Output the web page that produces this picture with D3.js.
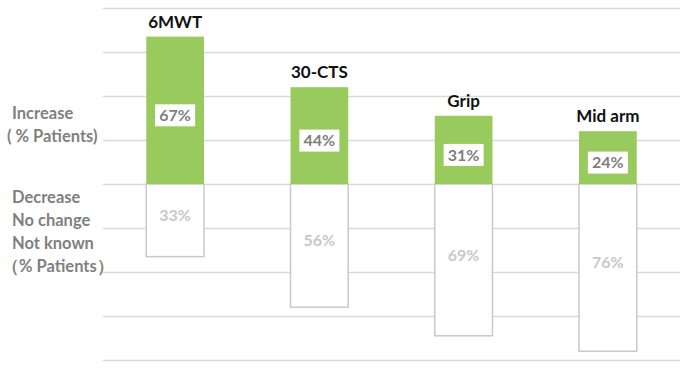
<!DOCTYPE html>
<html><head><meta charset="utf-8">
<script src="https://cdn.jsdelivr.net/npm/d3@7"></script>
<style>body{margin:0;background:#fff}svg{display:block}</style>
</head><body>
<script>
const categories = ["6MWT", "30-CTS", "Grip", "Mid arm"];
const increase = [67, 44, 31, 24];
const other = [33, 56, 69, 76];
const gridTicks = [-80, -60, -40, -20, 0, 20, 40, 60, 80];
const leftTop = ["Increase", "( % Patients)"];
const leftBottom = ["Decrease", "No change", "Not known", "（% Patients）"];

const W = 687, H = 379;
const svg = d3.select("body").append("svg").attr("width", W).attr("height", H);
const x = d3.scaleBand().domain(categories).range([103, 680]).paddingInner(0.6).paddingOuter(0.3);
const y = d3.scaleLinear().domain([-80, 80]).range([360, 8]);
const font = "Lato, 'Open Sans', sans-serif";

// gridlines
const grid = svg.append("g").attr("transform", "translate(103,0)")
  .call(d3.axisLeft(y).tickValues(gridTicks).tickSize(-(680 - 103)).tickFormat(""));
grid.select(".domain").remove();
grid.selectAll("line").attr("stroke", "#d9d9d9").attr("stroke-width", 1.5);

// lower (white) bars: values plotted as negative
svg.append("g").selectAll("rect").data(categories).join("rect")
  .attr("x", d => x(d)).attr("width", x.bandwidth())
  .attr("y", y(0)).attr("height", (d, i) => y(-other[i]) - y(0))
  .attr("fill", "#fff").attr("stroke", "#c9c9c9").attr("stroke-width", 1.5);

// upper (green) bars
svg.append("g").selectAll("rect").data(categories).join("rect")
  .attr("x", d => x(d)).attr("width", x.bandwidth())
  .attr("y", (d, i) => y(increase[i])).attr("height", (d, i) => y(0) - y(increase[i]))
  .attr("fill", "#99ca5d");

// category labels
svg.append("g").selectAll("text").data(categories).join("text")
  .attr("x", d => x(d) + x.bandwidth() / 2)
  .attr("y", (d, i) => y(increase[i]) - 9)
  .attr("text-anchor", "middle").attr("font-family", font).attr("font-weight", "bold")
  .attr("font-size", 17).attr("fill", "#111").text(d => d);

// increase labels in white boxes
const inc = svg.append("g").selectAll("g").data(categories).join("g")
  .attr("transform", (d, i) => `translate(${x(d) + x.bandwidth() / 2},${(y(increase[i]) + y(0)) / 2 + 5})`);
inc.append("rect").attr("x", -20).attr("y", -11).attr("width", 40).attr("height", 22).attr("fill", "#fff");
inc.append("text").attr("text-anchor", "middle").attr("dy", "0.36em")
  .attr("font-family", font).attr("font-weight", "bold").attr("font-size", 16)
  .attr("fill", "#7f7f7f").text((d, i) => increase[i] + "%");

// other labels
svg.append("g").selectAll("text").data(categories).join("text")
  .attr("x", d => x(d) + x.bandwidth() / 2)
  .attr("y", (d, i) => (y(-other[i]) + y(0)) / 2 - 5)
  .attr("dy", "0.36em").attr("text-anchor", "middle")
  .attr("font-family", font).attr("font-weight", "bold").attr("font-size", 16)
  .attr("fill", "#c8c8c8").text((d, i) => other[i] + "%");

// left labels
svg.append("g").selectAll("text").data(leftTop).join("text")
  .attr("x", (d, i) => i === 0 ? 12 : 7).attr("y", (d, i) => 113 + i * 23).attr("dy", "0.36em")
  .attr("font-family", font).attr("font-weight", "bold").attr("font-size", 16.5)
  .attr("fill", "#7f7f7f").text(d => d);
svg.append("g").selectAll("text").data(leftBottom).join("text")
  .attr("x", (d, i) => i === 3 ? 2 : 12).attr("y", (d, i) => 197 + i * 23).attr("dy", "0.36em")
  .attr("font-family", font).attr("font-weight", "bold").attr("font-size", 16.5)
  .attr("fill", "#7f7f7f").text(d => d);
</script>
</body></html>
